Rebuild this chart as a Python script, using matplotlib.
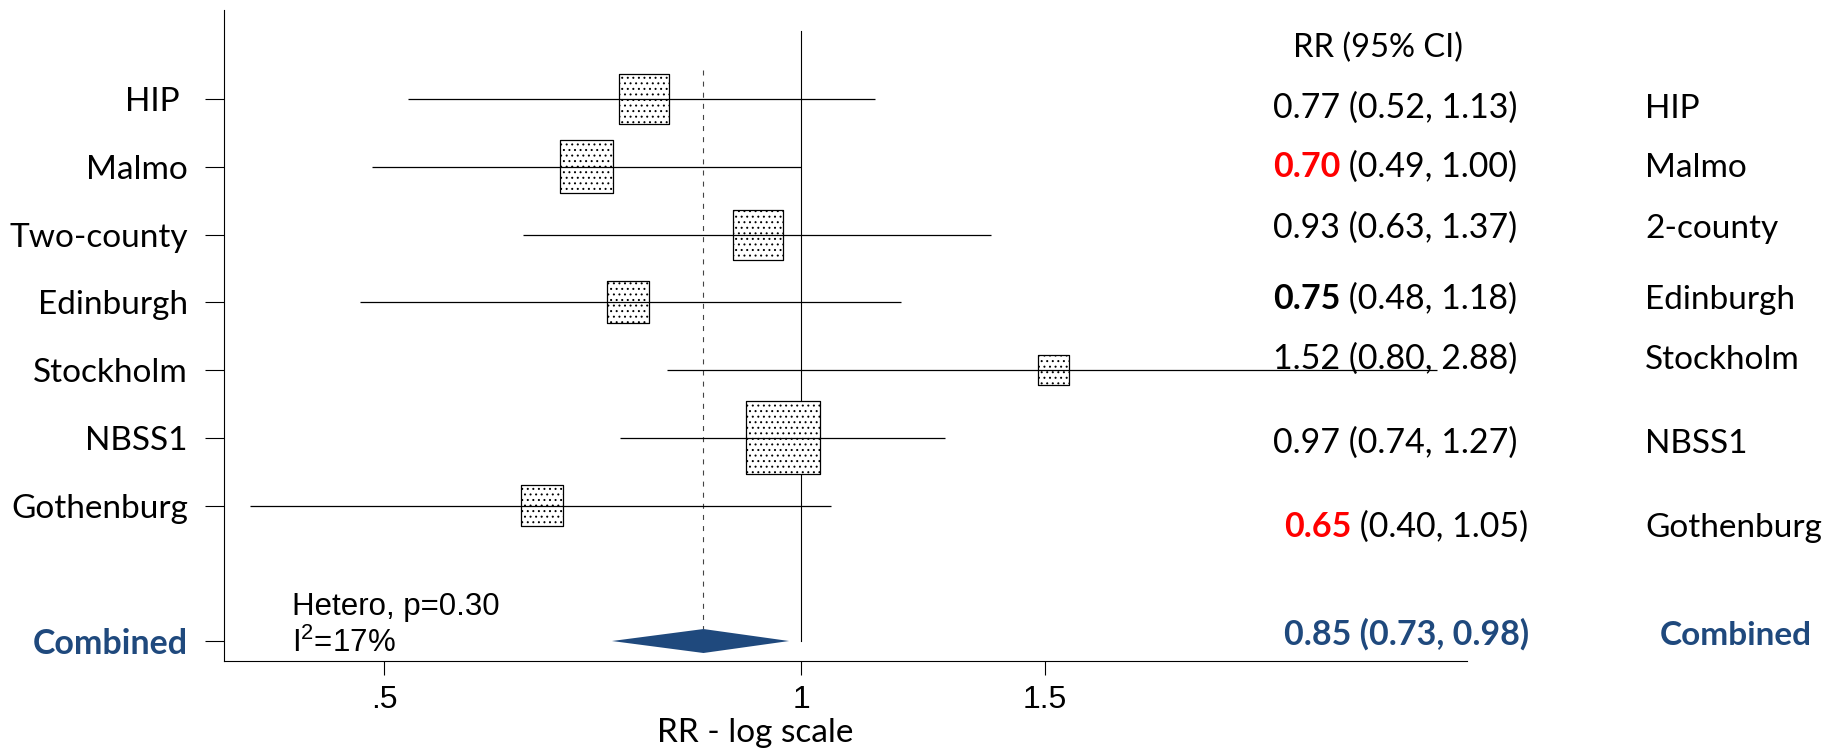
import numpy as np
import matplotlib
matplotlib.use("Agg")
import matplotlib.pyplot as plt
from matplotlib.ticker import NullLocator

# ---------------- data ----------------
studies = ["HIP ", "Malmo", "Two-county", "Edinburgh", "Stockholm", "NBSS1", "Gothenburg"]
short_names = ["HIP", "Malmo", "2-county", "Edinburgh", "Stockholm", "NBSS1", "Gothenburg"]
rr = [0.77, 0.70, 0.93, 0.75, 1.52, 0.97, 0.65]
ci_low = [0.52, 0.49, 0.63, 0.48, 0.80, 0.74, 0.40]
ci_high = [1.13, 1.00, 1.37, 1.18, 2.88, 1.27, 1.05]
weights = [14.1, 16.1, 14.1, 9.9, 5.4, 30.4, 9.9]          # % weight (box area)
highlight = [None, "red", None, "bold", None, None, "red"]  # emphasis of point estimate
combined_rr, combined_low, combined_high = 0.85, 0.73, 0.98
hetero_p = 0.30
i_squared = 17
xticks = [0.5, 1, 1.5]
xtick_labels = [".5", "1", "1.5"]

# ---------------- layout ----------------
plt.rcParams["mathtext.fontset"] = "custom"
plt.rcParams["mathtext.rm"] = "Liberation Sans"
plt.rcParams["hatch.linewidth"] = 0.7

W, H = 1832, 750
fig = plt.figure(figsize=(W / 100, H / 100), dpi=100)
ax = fig.add_axes([224 / W, 1 - 661 / H, (1467 - 224) / W, (661 - 10) / H])

CAL = "Lato"
ARI = "Liberation Sans"
BLUE = "#1F497D"
RED = "#FF0000"

ax.set_xscale("log")
ax.set_xlim(0.383, 3.025)
ax.set_ylim(8.295, -1.314)

y = np.arange(len(studies))
yc = len(studies) + 1
half_h = 0.177

# reference lines
ax.plot([1, 1], [-1.0, yc], color="black", lw=0.8, zorder=1)
ax.plot([combined_rr, combined_rr], [-0.43, yc - half_h], color="#444444",
        lw=0.8, ls=(0, (4.5, 5.5)), zorder=1)

# weighted boxes
side_px = 133.2 * np.sqrt(np.array(weights) / 100.0)
ax.scatter(rr, y, s=(side_px * 0.72) ** 2, marker="s", facecolor="white",
           edgecolor="black", linewidth=0.9, hatch="...", zorder=2)

# confidence intervals
ax.hlines(y, ci_low, ci_high, color="black", lw=0.9, zorder=3)

# combined diamond
ax.fill([combined_low, combined_rr, combined_high, combined_rr],
        [yc, yc - half_h, yc, yc + half_h], color=BLUE, lw=0, zorder=3)

# axes styling
for s in ("top", "right"):
    ax.spines[s].set_visible(False)
for s in ("left", "bottom"):
    ax.spines[s].set_linewidth(0.8)

ax.set_yticks(list(y) + [yc])
ax.set_yticklabels(studies + ["Combined"], fontfamily=CAL, fontsize=24)
ax.get_yticklabels()[-1].set_color(BLUE)
ax.get_yticklabels()[-1].set_fontweight("bold")
ax.get_yticklabels()[-1].set_fontsize(24.5)
ax.tick_params(axis="y", length=14, width=0.8, pad=12)

ax.xaxis.set_minor_locator(NullLocator())
ax.set_xticks(xticks)
ax.set_xticklabels(xtick_labels, fontfamily=ARI, fontsize=23)
ax.tick_params(axis="x", length=10, width=0.8, pad=7)

fig.text(755 / W, 1 - 733 / H, "RR - log scale", ha="center", va="center",
         fontfamily=CAL, fontsize=24)

fig.text(292 / W, 1 - 615 / H, f"Hetero, p={hetero_p:.2f}", ha="left",
         va="baseline", fontfamily=ARI, fontsize=22.5)
fig.text(292 / W, 1 - 652 / H, f"I$^{{2}}$={i_squared}%", ha="left",
         va="baseline", fontfamily=ARI, fontsize=22.5)

# right-hand columns
fig.text(1293 / W, 1 - 57 / H, "RR (95% CI)", ha="left", va="baseline",
         fontfamily=CAL, fontsize=23.5)

val_x = [1273, 1273, 1273, 1273, 1273, 1273, 1284]
base_y = [118, 177, 238, 309, 369, 453, 537]
name_x = 1645

renderer = fig.canvas.get_renderer()
for i in range(len(rr)):
    yb = 1 - base_y[i] / H
    est = f"{rr[i]:.2f}"
    rest = f" ({ci_low[i]:.2f}, {ci_high[i]:.2f})"
    if highlight[i] is None:
        fig.text(val_x[i] / W, yb, est + rest, ha="left", va="baseline",
                 fontfamily=CAL, fontsize=24.5)
    else:
        col = RED if highlight[i] == "red" else "black"
        t1 = fig.text(val_x[i] / W, yb, est, ha="left", va="baseline",
                      fontfamily=CAL, fontsize=24.5, fontweight="bold", color=col)
        bb = t1.get_window_extent(renderer=renderer)
        fig.text(bb.x1 / W, yb, rest, ha="left", va="baseline",
                 fontfamily=CAL, fontsize=24.5)
    fig.text(name_x / W, yb, short_names[i], ha="left", va="baseline",
             fontfamily=CAL, fontsize=24)

fig.text(1284 / W, 1 - 645 / H,
         f"{combined_rr:.2f} ({combined_low:.2f}, {combined_high:.2f})",
         ha="left", va="baseline", fontfamily=CAL, fontsize=24.5,
         fontweight="bold", color=BLUE)
fig.text(1660 / W, 1 - 645 / H, "Combined", ha="left", va="baseline",
         fontfamily=CAL, fontsize=24, fontweight="bold", color=BLUE)

fig.savefig("out.png", dpi=100)
